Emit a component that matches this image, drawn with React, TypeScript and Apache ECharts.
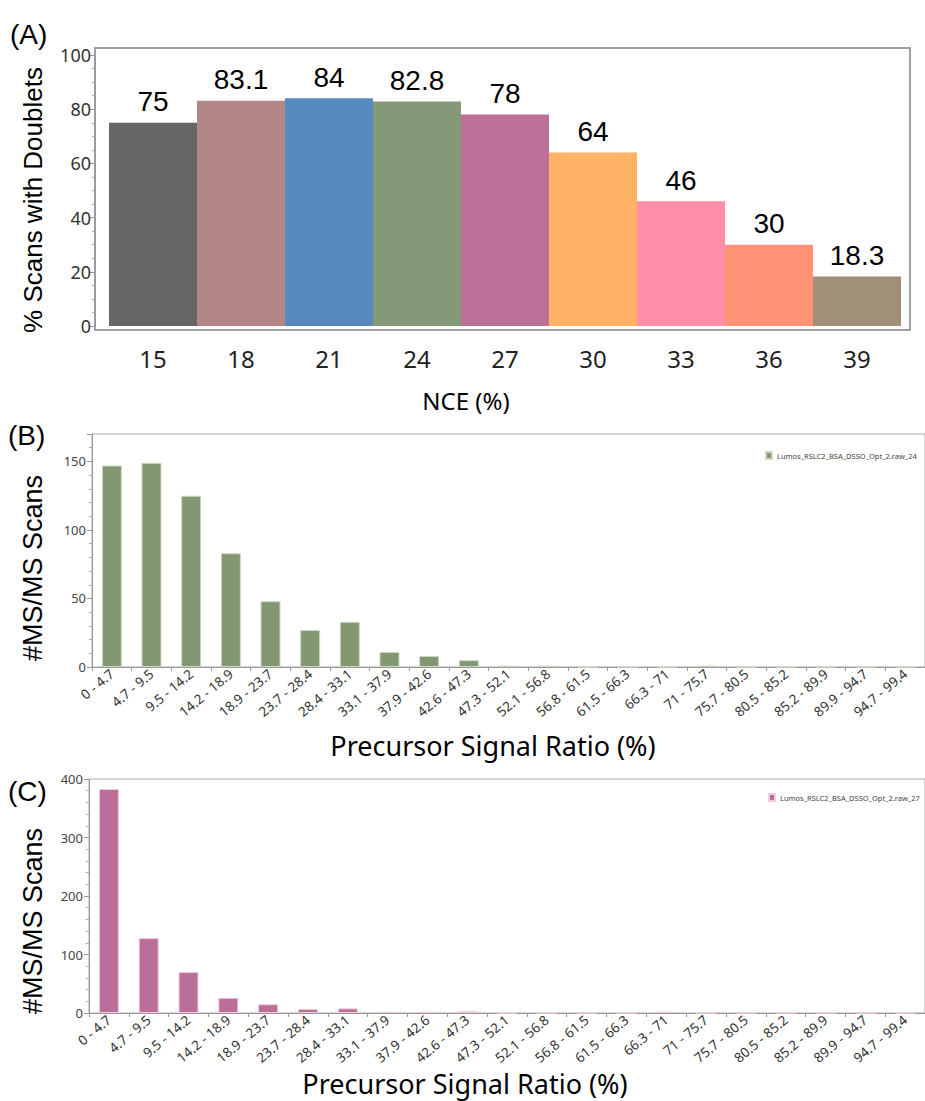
import React, { useEffect, useRef } from 'react';
import * as echarts from 'echarts';

const nceCategories = ['15', '18', '21', '24', '27', '30', '33', '36', '39'];
const doubletPercent = [75, 83.1, 84, 82.8, 78, 64, 46, 30, 18.3];
const nceColors = ['#666666', '#b38688', '#5889bf', '#859877', '#bb6f99', '#ffb266', '#ff8ea8', '#ff9175', '#a28f79'];

const ratioBins = ['0 - 4.7', '4.7 - 9.5', '9.5 - 14.2', '14.2 - 18.9', '18.9 - 23.7', '23.7 - 28.4', '28.4 - 33.1', '33.1 - 37.9', '37.9 - 42.6', '42.6 - 47.3', '47.3 - 52.1', '52.1 - 56.8', '56.8 - 61.5', '61.5 - 66.3', '66.3 - 71', '71 - 75.7', '75.7 - 80.5', '80.5 - 85.2', '85.2 - 89.9', '89.9 - 94.7', '94.7 - 99.4'];
const scansNce24 = [147, 149, 125, 83, 48, 27, 33, 11, 8, 5, 1, 1, 0, 0, 0, 1, 0, 0, 0, 0, 0];
const scansNce27 = [383, 128, 70, 26, 15, 7, 8, 2, 2, 3, 0, 0, 0, 0, 2, 0, 0, 0, 0, 0, 0];
const seriesNameB = 'Lumos_RSLC2_BSA_DSSO_Opt_2.raw_24';
const seriesNameC = 'Lumos_RSLC2_BSA_DSSO_Opt_2.raw_27';

const ARIAL = 'Liberation Sans, Arial, sans-serif';
const SEGOE = 'Noto Sans, Open Sans, sans-serif';

export default function App() {
  const ref = useRef<HTMLDivElement>(null);
  useEffect(() => {
    if (!ref.current) return;
    const chart = echarts.init(ref.current, undefined, { renderer: 'svg' });
    const ratioAxisLabel = {
      interval: 0,
      rotate: 40,
      fontSize: 13.5,
      color: '#333',
      fontFamily: SEGOE,
      margin: 5,
    };
    const legendText = { fontSize: 7.5, color: '#444', fontFamily: SEGOE };
    chart.setOption({
      animation: false,
      backgroundColor: '#ffffff',
      grid: [
        { left: 109, top: 55, width: 792, height: 271 },
        { left: 92, top: 434, width: 840, height: 233, show: true, borderColor: '#aaaaaa', borderWidth: 1 },
        { left: 89, top: 779, width: 840, height: 234, show: true, borderColor: '#aaaaaa', borderWidth: 1 },
      ],
      legend: [
        {
          data: [seriesNameB], left: 765, top: 451, itemWidth: 6, itemHeight: 7, padding: 0,
          selectedMode: false, icon: 'rect', textStyle: legendText,
        },
        {
          data: [seriesNameC], left: 768, top: 793, itemWidth: 6, itemHeight: 7, padding: 0,
          selectedMode: false, icon: 'rect', textStyle: legendText,
        },
      ],
      xAxis: [
        {
          gridIndex: 0, type: 'category', data: nceCategories,
          axisLine: { show: false }, axisTick: { show: false },
          axisLabel: { fontSize: 24, color: '#222', fontFamily: SEGOE, margin: 20 },
        },
        {
          gridIndex: 1, type: 'category', data: ratioBins,
          axisLine: { lineStyle: { color: '#999', width: 1 } },
          axisTick: { show: true, length: 4, lineStyle: { color: '#999' } },
          axisLabel: ratioAxisLabel,
        },
        {
          gridIndex: 2, type: 'category', data: ratioBins,
          axisLine: { lineStyle: { color: '#999', width: 1 } },
          axisTick: { show: true, length: 4, lineStyle: { color: '#999' } },
          axisLabel: ratioAxisLabel,
        },
      ],
      yAxis: [
        {
          gridIndex: 0, type: 'value', min: 0, max: 100, interval: 20, offset: 14,
          axisLine: { show: true, lineStyle: { color: '#999' } },
          axisTick: { show: true, length: 6, lineStyle: { color: '#999' } },
          minorTick: { show: true, splitNumber: 4, length: 3, lineStyle: { color: '#aaa' } },
          splitLine: { show: false },
          axisLabel: { fontSize: 18, color: '#333', fontFamily: SEGOE, margin: 4 },
        },
        {
          gridIndex: 1, type: 'value', min: 0, max: 170, interval: 10,
          axisLine: { show: true, lineStyle: { color: '#999' } },
          axisTick: { show: true, length: 3, lineStyle: { color: '#aaa' } },
          splitLine: { show: false },
          axisLabel: {
            fontSize: 13, color: '#444', fontFamily: SEGOE, margin: 6,
            formatter: (v: number) => (v % 50 === 0 ? String(v) : ''),
          },
        },
        {
          gridIndex: 1, type: 'value', min: 0, max: 170, interval: 50, position: 'left',
          axisLine: { show: false },
          axisTick: { show: true, length: 5, lineStyle: { color: '#999' } },
          splitLine: { show: false },
          axisLabel: { show: false },
        },
        {
          gridIndex: 2, type: 'value', min: 0, max: 400, interval: 100,
          axisLine: { show: true, lineStyle: { color: '#999' } },
          axisTick: { show: true, length: 5, lineStyle: { color: '#999' } },
          minorTick: { show: true, splitNumber: 5, length: 3, lineStyle: { color: '#aaa' } },
          splitLine: { show: false },
          axisLabel: { fontSize: 13, color: '#444', fontFamily: SEGOE, margin: 6 },
        },
      ],
      series: [
        {
          type: 'bar', xAxisIndex: 0, yAxisIndex: 0, barCategoryGap: '0%',
          data: doubletPercent.map((v, i) => ({ value: v, itemStyle: { color: nceColors[i] } })),
          label: { show: true, position: 'top', distance: 7, fontSize: 28, color: '#000', fontFamily: ARIAL },
        },
        {
          name: seriesNameB, type: 'bar', xAxisIndex: 1, yAxisIndex: 1, barWidth: 20,
          data: scansNce24,
          itemStyle: { color: '#839872', borderColor: '#cdd8c4', borderWidth: 1 },
        },
        {
          name: seriesNameC, type: 'bar', xAxisIndex: 2, yAxisIndex: 3, barWidth: 20,
          data: scansNce27,
          itemStyle: { color: '#bb6f98', borderColor: '#efcde0', borderWidth: 1 },
        },
      ],
      graphic: [
        { type: 'rect', shape: { x: 95, y: 48, width: 815, height: 282 }, style: { fill: 'none', stroke: '#a0a0a0', lineWidth: 2 } },
        { type: 'text', x: 10, y: 34, style: { text: '(A)', fontSize: 28, fontFamily: ARIAL, fill: '#000', align: 'left', verticalAlign: 'middle' } },
        { type: 'text', x: 8, y: 435, style: { text: '(B)', fontSize: 28, fontFamily: ARIAL, fill: '#000', align: 'left', verticalAlign: 'middle' } },
        { type: 'text', x: 8, y: 791, style: { text: '(C)', fontSize: 28, fontFamily: ARIAL, fill: '#000', align: 'left', verticalAlign: 'middle' } },
        { type: 'text', x: 33, y: 200, rotation: Math.PI / 2, style: { text: '% Scans with Doublets', fontSize: 26, fontFamily: ARIAL, fill: '#000', align: 'center', verticalAlign: 'middle' } },
        { type: 'text', x: 33, y: 568, rotation: Math.PI / 2, style: { text: '#MS/MS Scans', fontSize: 27, fontFamily: ARIAL, fill: '#000', align: 'center', verticalAlign: 'middle' } },
        { type: 'text', x: 33, y: 921, rotation: Math.PI / 2, style: { text: '#MS/MS Scans', fontSize: 27, fontFamily: ARIAL, fill: '#000', align: 'center', verticalAlign: 'middle' } },
        { type: 'text', x: 466, y: 400, style: { text: 'NCE (%)', fontSize: 24, fontFamily: SEGOE, fill: '#000', align: 'center', verticalAlign: 'middle' } },
        { type: 'text', x: 493, y: 745, style: { text: 'Precursor Signal Ratio (%)', fontSize: 27, fontFamily: SEGOE, fill: '#000', align: 'center', verticalAlign: 'middle' } },
        { type: 'text', x: 465, y: 1083, style: { text: 'Precursor Signal Ratio (%)', fontSize: 27, fontFamily: SEGOE, fill: '#000', align: 'center', verticalAlign: 'middle' } },
      ],
    });
    return () => chart.dispose();
  }, []);
  return (
    <div
      ref={ref}
      style={{ position: 'absolute', left: 0, top: 0, width: 925, height: 1101, background: '#fff' }}
    />
  );
}
